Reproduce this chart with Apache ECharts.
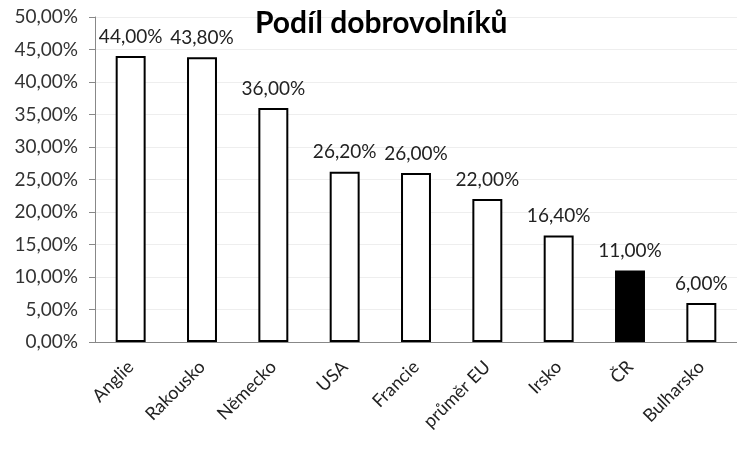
<!DOCTYPE html>
<html>
<head>
<meta charset="utf-8">
<script src="https://cdn.jsdelivr.net/npm/echarts@6/dist/echarts.min.js"></script>
<style>
  html, body { margin: 0; padding: 0; background: #fff; }
  #chart { width: 737px; height: 452px; }
</style>
</head>
<body>
<div id="chart"></div>
<script>
const categories = ['Anglie', 'Rakousko', 'Německo', 'USA', 'Francie', 'průměr EU', 'Irsko', 'ČR', 'Bulharsko']
const values = [44.0, 43.8, 36.0, 26.2, 26.0, 22.0, 16.4, 11.0, 6.0]
const highlight = 'ČR'

const fmt = v => v.toFixed(2).replace('.', ',') + '%'
const font = 'Lato, "Open Sans", sans-serif'

const chart = echarts.init(document.getElementById('chart'))
chart.setOption({
  animation: false,
  title: {
    text: 'Podíl dobrovolníků',
    left: 250,
    top: 3,
    textStyle: { fontFamily: font, fontSize: 30, fontWeight: 'bold', color: '#000' }
  },
  grid: { left: 95, right: -5, top: 17, bottom: 110 },
  xAxis: {
    type: 'category',
    data: categories,
    axisLine: { lineStyle: { color: '#888' } },
    axisTick: { lineStyle: { color: '#888' }, length: 6 },
    axisLabel: { rotate: 45, fontFamily: font, fontSize: 18, color: '#222', margin: 22 }
  },
  yAxis: {
    type: 'value',
    min: 0,
    max: 50,
    interval: 5,
    axisLine: { show: true, lineStyle: { color: '#888' } },
    axisTick: { show: true, length: 6, lineStyle: { color: '#888' } },
    splitLine: { lineStyle: { color: '#eee' } },
    axisLabel: { formatter: fmt, fontFamily: font, fontSize: 19, color: '#333', margin: 17 }
  },
  series: [{
    type: 'bar',
    barWidth: '42%',
    data: values.map((v, i) => ({
      value: v,
      itemStyle: { color: categories[i] === highlight ? '#000' : '#fff' }
    })),
    itemStyle: { borderColor: '#000', borderWidth: 2 },
    label: {
      show: true,
      position: 'top',
      distance: 10,
      formatter: p => fmt(p.value),
      fontFamily: font,
      fontSize: 19,
      color: '#222'
    }
  }]
})
</script>
</body>
</html>
